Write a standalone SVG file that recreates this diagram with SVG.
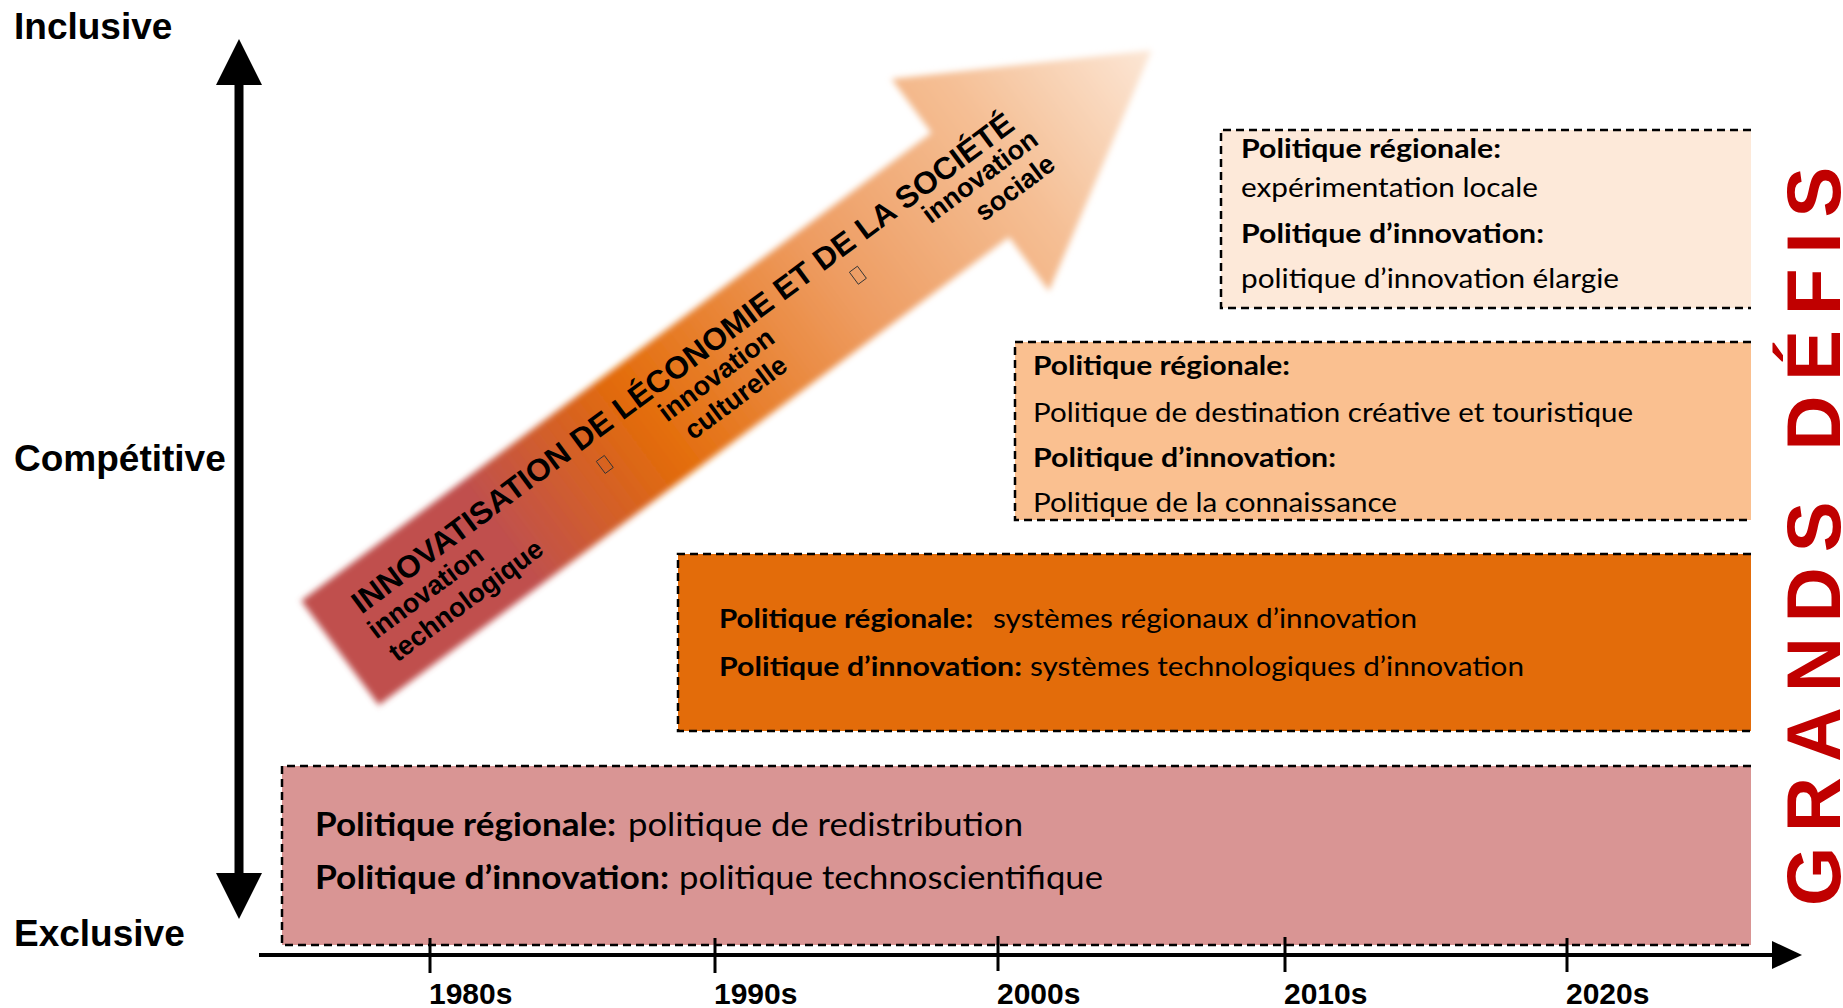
<svg xmlns="http://www.w3.org/2000/svg" width="1843" height="1008" viewBox="0 0 1843 1008">
<style>
.axl{font-family:"Liberation Sans",Arial,sans-serif;font-weight:bold;font-size:37px;fill:#000}
.yr{font-family:"Liberation Sans",Arial,sans-serif;font-weight:bold;font-size:30px;fill:#000}
.bx{stroke:none}
.dash{fill:none;stroke:#000;stroke-width:2.5;stroke-dasharray:8 5}
.t{font-family:Lato,"Open Sans",sans-serif;fill:#000}
.t27{font-size:27.5px}
.t32{font-size:32px}
.b{font-weight:bold}
.r{font-weight:normal}
.arT{font-family:"Liberation Sans",Arial,sans-serif;font-weight:bold;fill:#000}
.tofu{fill:none;stroke:#333;stroke-width:0.9}
.gd{font-family:"Liberation Sans",Arial,sans-serif;font-weight:bold;font-size:76px;fill:#C00000;letter-spacing:15px}
</style>
<defs>
<linearGradient id="arrGrad" gradientUnits="userSpaceOnUse" x1="0" y1="0" x2="1011" y2="0">
<stop offset="0" stop-color="#C0504D"/>
<stop offset="0.2" stop-color="#C0504D"/>
<stop offset="0.38" stop-color="#E36C0A"/>
<stop offset="0.62" stop-color="#EE9D63"/>
<stop offset="0.82" stop-color="#F5BF95"/>
<stop offset="1" stop-color="#FCE7D6"/>
</linearGradient>
<filter id="soft" x="-5%" y="-20%" width="110%" height="140%">
<feGaussianBlur stdDeviation="3"/>
</filter>
</defs>
<rect width="1843" height="1008" fill="#fff"/>

<g id="box-1980s">
<rect class="bx" x="282" y="766" width="1469" height="179" fill="#D99594"/>
<path class="dash" d="M1751,766 H282 V945 H1751"/>
<text class="t t32" y="836"><tspan class="b" x="315" textLength="301" lengthAdjust="spacingAndGlyphs">Politique régionale:</tspan><tspan class="r" x="628" textLength="395" lengthAdjust="spacingAndGlyphs">politique de redistribution</tspan></text>
<text class="t t32" y="889"><tspan class="b" x="315" textLength="354" lengthAdjust="spacingAndGlyphs">Politique d’innovation:</tspan><tspan class="r" x="679" textLength="424" lengthAdjust="spacingAndGlyphs">politique technoscientifique</tspan></text>
</g>

<g id="box-1990s">
<rect class="bx" x="678" y="554" width="1073" height="177" fill="#E36C0A"/>
<path class="dash" d="M1751,554 H678 V731 H1751"/>
<text class="t t27" y="628"><tspan class="b" x="719" textLength="254" lengthAdjust="spacingAndGlyphs">Politique régionale:</tspan><tspan class="r" x="993" textLength="424" lengthAdjust="spacingAndGlyphs">systèmes régionaux d’innovation</tspan></text>
<text class="t t27" y="676"><tspan class="b" x="719" textLength="303" lengthAdjust="spacingAndGlyphs">Politique d’innovation:</tspan><tspan class="r" x="1030" textLength="494" lengthAdjust="spacingAndGlyphs">systèmes technologiques d’innovation</tspan></text>
</g>

<g id="box-2000s">
<rect class="bx" x="1015" y="342" width="736" height="178" fill="#FAC090"/>
<path class="dash" d="M1751,342 H1015 V520 H1751"/>
<text class="t t27 b" x="1033" y="375" textLength="257" lengthAdjust="spacingAndGlyphs">Politique régionale:</text>
<text class="t t27 r" x="1033" y="422" textLength="600" lengthAdjust="spacingAndGlyphs">Politique de destination créative et touristique</text>
<text class="t t27 b" x="1033" y="467" textLength="303" lengthAdjust="spacingAndGlyphs">Politique d’innovation:</text>
<text class="t t27 r" x="1033" y="512" textLength="364" lengthAdjust="spacingAndGlyphs">Politique de la connaissance</text>
</g>

<g id="box-2010s">
<rect class="bx" x="1221" y="130" width="530" height="178" fill="#FDE9D9"/>
<path class="dash" d="M1751,130 H1221 V308 H1751"/>
<text class="t t27 b" x="1241" y="158" textLength="260" lengthAdjust="spacingAndGlyphs">Politique régionale:</text>
<text class="t t27 r" x="1241" y="197" textLength="297" lengthAdjust="spacingAndGlyphs">expérimentation locale</text>
<text class="t t27 b" x="1241" y="243" textLength="303" lengthAdjust="spacingAndGlyphs">Politique d’innovation:</text>
<text class="t t27 r" x="1241" y="288" textLength="378" lengthAdjust="spacingAndGlyphs">politique d’innovation élargie</text>
</g>

<g id="innovation-arrow" transform="translate(340,653) rotate(-36.6)">
<path d="M0,-65 L785,-65 L785,-132 L1011,0 L785,132 L785,65 L0,65 Z" fill="url(#arrGrad)" filter="url(#soft)"/>
<text class="arT" x="40" y="-18" font-size="31" textLength="816" lengthAdjust="spacingAndGlyphs">INNOVATISATION DE LÉCONOMIE ET DE LA SOCIÉTÉ</text>
<text class="arT" font-size="27"><tspan x="37" y="11">innovation</tspan><tspan x="40" y="42">technologique</tspan></text>
<text class="arT" font-size="27" text-anchor="middle"><tspan x="468" y="10">innovation</tspan><tspan x="470" y="40">culturelle</tspan></text>
<text class="arT" font-size="27" text-anchor="end"><tspan x="866" y="8">innovation</tspan><tspan x="865" y="38">sociale</tspan></text>
<rect class="tofu" x="320" y="-1" width="10" height="15"/>
<rect class="tofu" x="636" y="-2" width="10" height="15"/>
</g>

<g id="grands-defis">
<text class="gd" transform="translate(1840,906) rotate(-90)" x="0" y="0">GRANDS DÉFIS</text>
</g>

<g id="axis-labels">
<text class="axl" x="14" y="39">Inclusive</text>
<text class="axl" x="14" y="471">Compétitive</text>
<text class="axl" x="14" y="946">Exclusive</text>
<text class="yr" x="429" y="1004">1980s</text>
<text class="yr" x="714" y="1004">1990s</text>
<text class="yr" x="997" y="1004">2000s</text>
<text class="yr" x="1284" y="1004">2010s</text>
<text class="yr" x="1566" y="1004">2020s</text>
</g>

<g id="connectors">
<line x1="239" y1="80" x2="239" y2="878" stroke="#000" stroke-width="9"/>
<polygon points="239,39 216,85 262,85" fill="#000"/>
<polygon points="239,919 216,873 262,873" fill="#000"/>
<line x1="259" y1="955" x2="1776" y2="955" stroke="#000" stroke-width="4"/>
<polygon points="1802,955 1772,941 1772,969" fill="#000"/>
<g stroke="#000" stroke-width="3">
<line x1="430" y1="938" x2="430" y2="973"/>
<line x1="715" y1="938" x2="715" y2="973"/>
<line x1="998" y1="936" x2="998" y2="971"/>
<line x1="1285" y1="937" x2="1285" y2="972"/>
<line x1="1567" y1="938" x2="1567" y2="972"/>
</g>
</g>
</svg>
